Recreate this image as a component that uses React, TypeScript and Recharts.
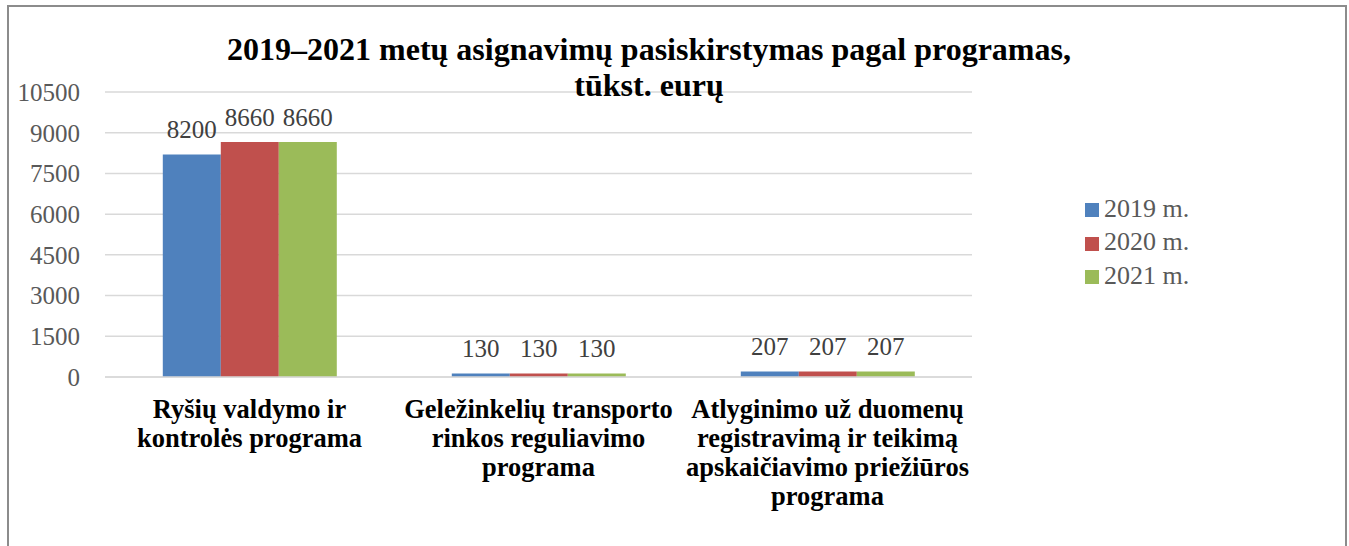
import { BarChart, Bar, XAxis, YAxis, CartesianGrid, LabelList } from 'recharts';

const categories = [
  'Ryšių valdymo ir\nkontrolės programa',
  'Geležinkelių transporto\nrinkos reguliavimo\nprograma',
  'Atlyginimo už duomenų\nregistravimą ir teikimą\napskaičiavimo priežiūros\nprograma',
];

const values2019 = [8200, 130, 207];
const values2020 = [8660, 130, 207];
const values2021 = [8660, 130, 207];

const seriesNames = ['2019 m.', '2020 m.', '2021 m.'];
const yTicks = [0, 1500, 3000, 4500, 6000, 7500, 9000, 10500];

const titleLines = ['2019–2021 metų asignavimų pasiskirstymas pagal programas,', 'tūkst. eurų'];

const COLORS = ['#4F81BD', '#C0504D', '#9BBB59'];
const SERIF = 'Liberation Serif, Times New Roman, serif';

const data = categories.map((name, i) => ({
  name,
  y2019: values2019[i],
  y2020: values2020[i],
  y2021: values2021[i],
}));

const seriesKeys = ['y2019', 'y2020', 'y2021'];

function CategoryTick(props: any) {
  const { x, y, payload } = props;
  const lines = String(payload.value).split('\n');
  return (
    <text
      textAnchor="middle"
      style={{ fontFamily: SERIF, fontSize: 26.5, fontWeight: 'bold' }}
      fill="#000"
    >
      {lines.map((line, i) => (
        <tspan key={i} x={x} y={y + 33 + i * 29}>
          {line}
        </tspan>
      ))}
    </text>
  );
}

function LegendBox() {
  return (
    <div style={{ position: 'absolute', left: 1085, top: 192, fontFamily: SERIF, fontSize: 26, color: '#595959' }}>
      {seriesNames.map((name, i) => (
        <div key={name} style={{ display: 'flex', alignItems: 'center', height: 33.5 }}>
          <span
            style={{
              display: 'inline-block',
              width: 14,
              height: 14,
              background: COLORS[i],
              marginRight: 5,
              marginTop: 3,
            }}
          />
          <span>{name}</span>
        </div>
      ))}
    </div>
  );
}

export default function App() {
  return (
    <div
      style={{
        position: 'absolute',
        left: 0,
        top: 0,
        width: 1349,
        height: 546,
        background: '#fff',
        overflow: 'hidden',
        fontFamily: SERIF,
      }}
    >
      <div
        style={{
          position: 'absolute',
          left: 7,
          top: 5,
          width: 1336,
          height: 600,
          borderTop: '2px solid #8c8c8c',
          borderLeft: '2px solid #8c8c8c',
          borderRight: '2px solid #8c8c8c',
        }}
      />
      <BarChart
        width={1349}
        height={546}
        data={data}
        margin={{ top: 92, right: 377, bottom: 139, left: 0 }}
        barCategoryGap="20%"
        barGap={0}
      >
        <CartesianGrid vertical={false} stroke="#d9d9d9" strokeWidth={1.5} />
        <XAxis
          dataKey="name"
          height={30}
          tick={<CategoryTick />}
          tickLine={false}
          axisLine={{ stroke: '#d9d9d9', strokeWidth: 1.5 }}
          interval={0}
        />
        <YAxis
          width={105}
          domain={[0, 10500]}
          ticks={yTicks}
          tickLine={false}
          axisLine={false}
          tickMargin={19}
          tick={{ fontSize: 25, fill: '#595959', style: { fontFamily: SERIF } }}
        />
        {seriesKeys.map((key, i) => (
          <Bar key={key} dataKey={key} name={seriesNames[i]} fill={COLORS[i]} isAnimationActive={false}>
            <LabelList
              dataKey={key}
              position="top"
              offset={16}
              style={{ fontFamily: SERIF, fontSize: 25, fill: '#404040' }}
            />
          </Bar>
        ))}
      </BarChart>
      <LegendBox />
      <div
        style={{
          position: 'absolute',
          left: 0,
          width: 1298,
          top: 31,
          textAlign: 'center',
          fontFamily: SERIF,
          fontWeight: 'bold',
          fontSize: 32,
          lineHeight: '36px',
          color: '#000',
          pointerEvents: 'none',
        }}
      >
        {titleLines.map((line) => (
          <div key={line}>{line}</div>
        ))}
      </div>
    </div>
  );
}
